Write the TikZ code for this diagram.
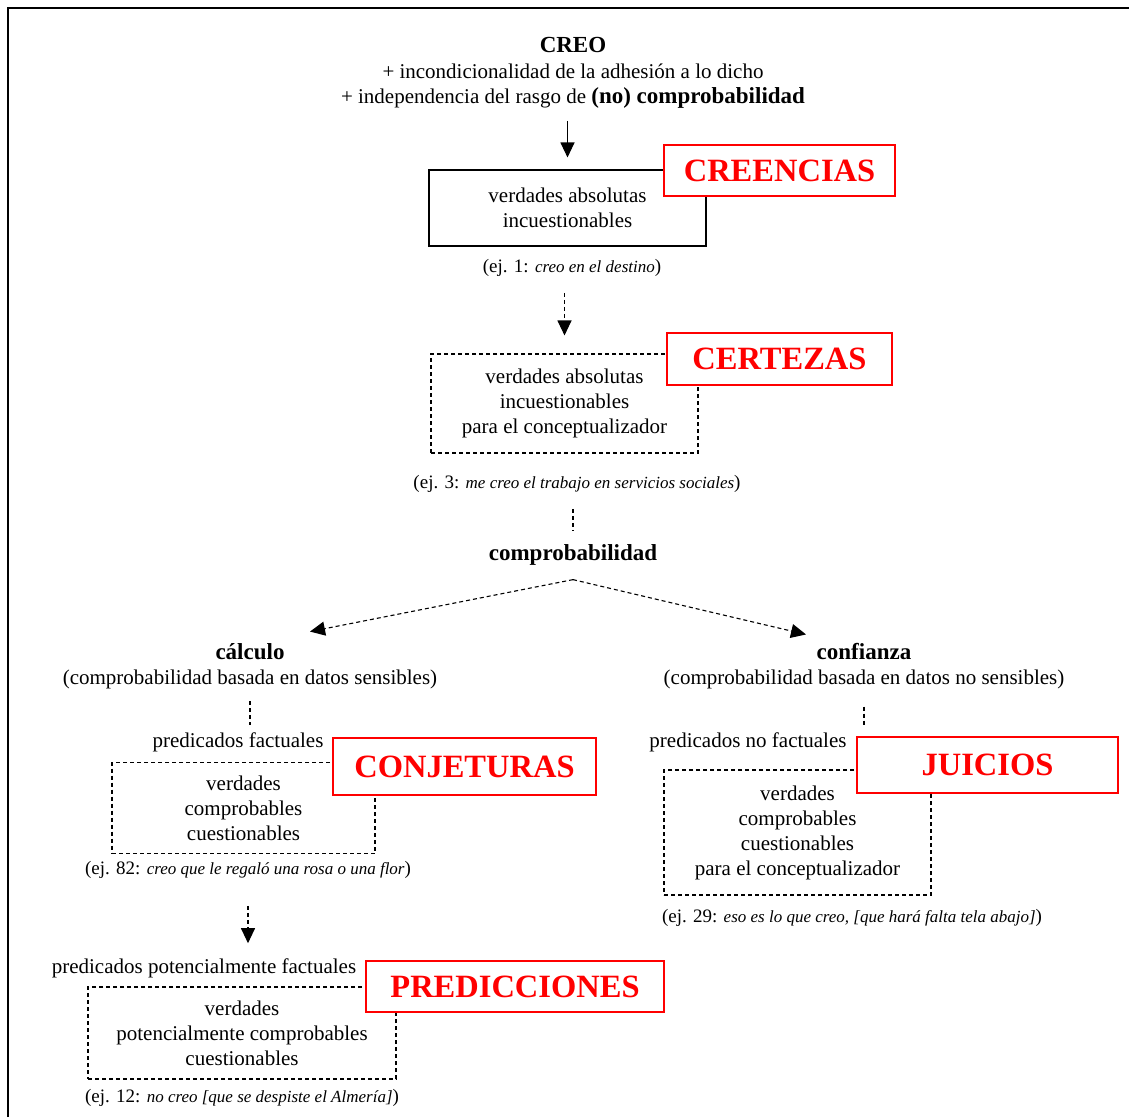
\documentclass[tikz,border=0pt]{standalone}
\usepackage{fontspec}
\setmainfont{Liberation Serif}
\usetikzlibrary{arrows.meta,calc}
% italic part of an example citation
\newcommand\exit[1]{{\fontsize{17}{20}\selectfont\itshape #1}}
% wide bold for headings
\newcommand\hb[1]{{\fontsize{23}{25.5}\selectfont\bfseries #1}}
\begin{document}
\begin{tikzpicture}[x=1pt,y=-1pt,
  txt/.style={font=\fontsize{21}{25}\selectfont, align=center, inner sep=0pt},
  ex/.style={font=\fontsize{19}{22}\selectfont, inner sep=0pt},
  solidbox/.style={txt, draw, line width=1.1pt},
  dbox/.style={txt, draw, line width=1.1pt, dash pattern=on 4pt off 3pt},
  redlbl/.style={draw=red, line width=1.3pt, fill=white, text=red,
    font=\fontsize{32.5}{36}\selectfont\bfseries, inner sep=0pt},
  arr/.style={-{Triangle[length=15pt,width=14pt]}, line width=1.1pt},
  dl/.style={line width=1.1pt, dash pattern=on 4pt off 3pt}]
\useasboundingbox (0,0) rectangle (1129,1117);
% outer frame (top and left edges)
\draw[line width=1.6pt] (8,1117) -- (8,8) -- (1129,8);

% header
\node[txt, font=\fontsize{21}{25.5}\selectfont] (hdr) at (573,73) {\hb{CREO}\\+ incondicionalidad de la adhesión a lo dicho\\+ independencia del rasgo de \hb{(no) comprobabilidad}};

% creencias
\node[solidbox, minimum width=277pt, minimum height=76pt] (box1) at (567.5,208) {verdades absolutas\\incuestionables};
\node[redlbl, minimum width=231pt, minimum height=51pt] (lcre) at (779.5,170.5) {CREENCIAS};
\node[ex] (ex1) at (572,268) {(ej. 1: \exit{creo en el destino})};

% certezas
\node[dbox, minimum width=267pt, minimum height=99pt] (box2) at (564.5,403.5) {verdades absolutas\\incuestionables\\para el conceptualizador};
\node[redlbl, minimum width=225pt, minimum height=52pt] (lcer) at (779.5,359) {CERTEZAS};
\node[ex] (ex3) at (577,484) {(ej. 3: \exit{me creo el trabajo en servicios sociales})};

% comprobabilidad
\node[txt] (comp) at (573,555) {\hb{comprobabilidad}};
\node[txt] (calc) at (250,666.5) {\hb{cálculo}\\(comprobabilidad basada en datos sensibles)};
\node[txt] (conf) at (864,666.5) {\hb{confianza}\\(comprobabilidad basada en datos no sensibles)};

% conjeturas
\node[txt] (pf) at (238,742) {predicados factuales};
\node[dbox, minimum width=263pt, minimum height=91pt] (box3) at (243.5,808) {verdades\\comprobables\\cuestionables};
\node[redlbl, minimum width=263pt, minimum height=57pt] (lcon) at (464.5,766.5) {CONJETURAS};
\node[ex] (ex82) at (248,870) {(ej. 82: \exit{creo que le regaló una rosa o una flor})};

% predicciones
\node[txt] (ppf) at (204,968) {predicados potencialmente factuales};
\node[dbox, minimum width=308pt, minimum height=92pt] (box4) at (242,1033) {verdades\\potencialmente comprobables\\cuestionables};
\node[redlbl, minimum width=298pt, minimum height=51pt] (lpre) at (515,986.5) {PREDICCIONES};
\node[ex] (ex12) at (242,1098) {(ej. 12: \exit{no creo [que se despiste el Almería]})};

% juicios
\node[txt] (pnf) at (748,742) {predicados no factuales};
\node[dbox, minimum width=267pt, minimum height=125pt] (box5) at (797.5,832.5) {verdades\\comprobables\\cuestionables\\para el conceptualizador};
\node[redlbl, minimum width=261pt, minimum height=56pt] (ljui) at (987.5,765) {JUICIOS};
\node[ex] (ex29) at (852,918) {(ej. 29: \exit{eso es lo que creo, [que hará falta tela abajo]})};

% connectors
\draw[arr, shorten <=12pt, shorten >=12pt] (hdr.south -| box1.north) -- (box1.north);
\draw[arr, dl, shorten <=16pt, shorten >=18pt] (ex1.south -| box2.north) -- (box2.north);
\draw[dl, shorten <=16pt, shorten >=14pt] (ex3.south -| comp.north) -- (comp.north);
\draw[arr, dl] ([yshift=-14pt]comp.south) -- ([xshift=60pt,yshift=12pt]calc.north);
\draw[arr, dl] ([yshift=-14pt]comp.south) -- ([xshift=-58pt,yshift=9pt]conf.north);
\draw[dl, shorten <=12pt, shorten >=7pt] (calc.south) -- (calc.south |- pf.north);
\coordinate (nfjoin) at (conf.south |- pnf.north);
\draw[dl, shorten <=17pt, shorten >=6pt] (conf.south) -- (nfjoin);
\draw[arr, dl, shorten <=27pt, shorten >=15pt] (ex82.south) -- (ex82.south |- ppf.north);
\end{tikzpicture}
\end{document}
